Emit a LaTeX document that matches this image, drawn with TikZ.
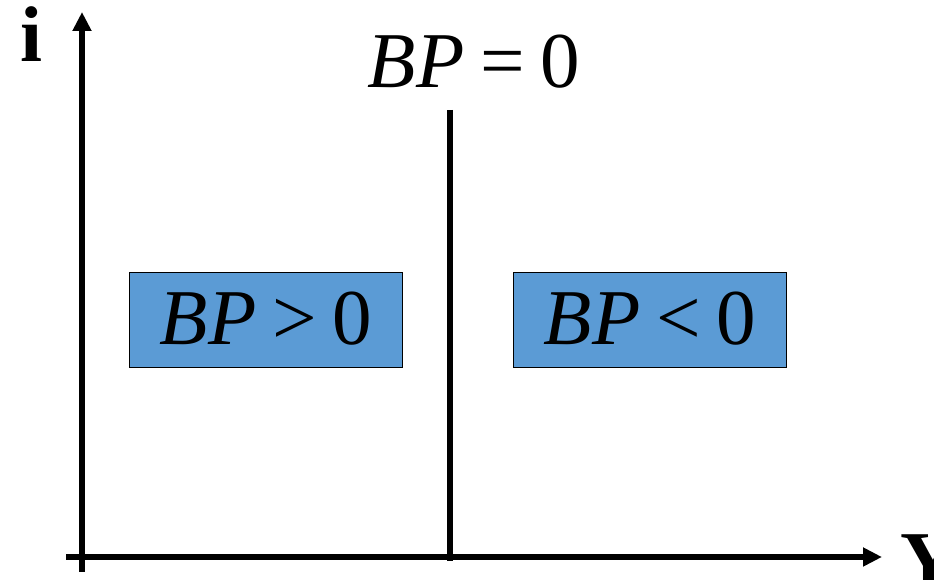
\documentclass[tikz,border=0pt]{standalone}
\usepackage{fontspec}
\setmainfont{Liberation Serif}
\usepackage{xcolor}
\usetikzlibrary{arrows.meta}
\definecolor{bpBlue}{HTML}{5B9BD5}
\definecolor{bpInk}{HTML}{000000}

\tikzset{
  bpbox/.style={draw=bpInk, line width=0.8pt, fill=bpBlue, minimum width=5.46cm,
    minimum height=1.9cm, inner sep=0pt, font=\fontsize{45}{54}\selectfont},
  axislbl/.style={font=\fontsize{45}{54}\selectfont\bfseries, inner sep=0pt},
  axis/.style={bpInk, line width=3.4pt, -{Triangle[length=0.38cm, width=0.36cm]}}
}
\newcommand{\bplbl}[1]{\raisebox{0.08cm}{\textit{BP}\hspace{0.2em}#1\hspace{0.2em}0}}

\begin{document}
\begin{tikzpicture}[x=0.02cm, y=-0.02cm, line cap=butt]
  \useasboundingbox (0,0) rectangle (934,580);
  \coordinate (ybot) at (82,572);
  \coordinate (ytop) at (82,12);
  \coordinate (xleft) at (66,557);
  \coordinate (xright) at (882,557);
  \coordinate (ltop) at (450,110);
  \coordinate (lbot) at (450,561);
  \draw[axis] (ybot) -- (ytop);
  \draw[axis] (xleft) -- (xright);
  \draw[bpInk, line width=3.8pt] (ltop) -- (lbot);
  \node[axislbl, anchor=base] (ilbl) at (31,62) {i};
  \node[axislbl, anchor=base west] (Ylbl) at (900,587) {Y};
  \node[inner sep=0pt, anchor=base, font=\fontsize{45}{54}\selectfont] (bpzero) at (474,88)
    {\textit{BP}\hspace{0.2em}=\hspace{0.2em}0};
  \node[bpbox] (bppos) at (266,320) {\bplbl{>}};
  \node[bpbox] (bpneg) at (650,320) {\bplbl{<}};
\end{tikzpicture}
\end{document}
